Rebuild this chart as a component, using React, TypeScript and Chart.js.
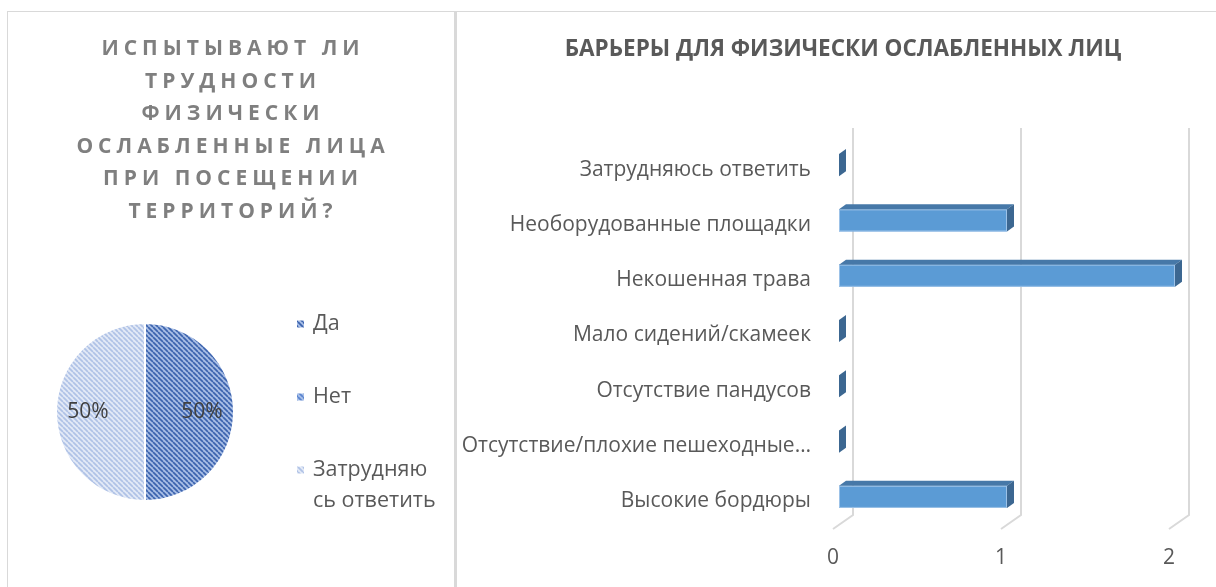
import React, { useEffect, useRef } from 'react';
import { Chart, registerables } from 'chart.js';
Chart.register(...registerables);

const pieTitleLines = ['ИСПЫТЫВАЮТ ЛИ', 'ТРУДНОСТИ', 'ФИЗИЧЕСКИ', 'ОСЛАБЛЕННЫЕ ЛИЦА', 'ПРИ ПОСЕЩЕНИИ', 'ТЕРРИТОРИЙ?'];
const pieLabels = ['Да', 'Нет', 'Затрудняюсь ответить'];
const pieLegendLines = [['Да'], ['Нет'], ['Затрудняю', 'сь ответить']];
const pieValues = [1, 0, 1];

const barTitle = 'БАРЬЕРЫ ДЛЯ ФИЗИЧЕСКИ ОСЛАБЛЕННЫХ ЛИЦ';
const barCategories = [
  'Затрудняюсь ответить',
  'Необорудованные площадки',
  'Некошенная трава',
  'Мало сидений/скамеек',
  'Отсутствие пандусов',
  'Отсутствие/плохие пешеходные…',
  'Высокие бордюры',
];
const barValues = [0, 1, 2, 0, 0, 0, 1];
const xTickValues = [0, 1, 2];

const FONT = 'Open Sans';
const TEXT = '#595959';
const BORDER = '#D9D9D9';

function makePattern(bg: string, fg: string, size: number, lw: number) {
  const c = document.createElement('canvas');
  c.width = size;
  c.height = size;
  const x = c.getContext('2d')!;
  x.fillStyle = bg;
  x.fillRect(0, 0, size, size);
  x.strokeStyle = fg;
  x.lineWidth = lw;
  x.beginPath();
  for (const k of [-size, 0, size]) {
    x.moveTo(k, 0);
    x.lineTo(k + size, size);
  }
  x.stroke();
  return x.createPattern(c, 'repeat')!;
}

function PieChart() {
  const ref = useRef<HTMLCanvasElement>(null);
  useEffect(() => {
    const patterns = [
      makePattern('#A7BDE5', '#3B63AE', 5, 1.7),
      makePattern('#A9C0E8', '#5A84CF', 5, 1.7),
      makePattern('#E2E9F6', '#AFC2E6', 5, 1.7),
    ];
    const total = pieValues.reduce((a, b) => a + b, 0);
    const piePlugin = {
      id: 'pieExtras',
      afterDraw(chart: any) {
        const ctx = chart.ctx as CanvasRenderingContext2D;
        ctx.save();
        // title
        (ctx as any).letterSpacing = '5px';
        ctx.font = `bold 21px "${FONT}"`;
        ctx.fillStyle = '#7F7F7F';
        ctx.textAlign = 'center';
        ctx.textBaseline = 'middle';
        pieTitleLines.forEach((line, i) => {
          ctx.fillText(line, 225, 37 + i * 32.6);
        });
        (ctx as any).letterSpacing = '0px';
        // percentage labels
        const meta = chart.getDatasetMeta(0);
        ctx.font = `21px "${FONT}"`;
        ctx.fillStyle = '#404040';
        meta.data.forEach((el: any, i: number) => {
          const v = pieValues[i];
          if (!v) return;
          const p = el.getProps(['x', 'y', 'startAngle', 'endAngle', 'outerRadius'], true);
          const mid = (p.startAngle + p.endAngle) / 2;
          const r = p.outerRadius * 0.64;
          ctx.fillText(Math.round((v / total) * 100) + '%', p.x + Math.cos(mid) * r, p.y + Math.sin(mid) * r);
        });
        // legend
        const legendY = [312, 385, 458];
        ctx.textAlign = 'left';
        ctx.font = `21.5px "${FONT}"`;
        pieLabels.forEach((_, i) => {
          const y = legendY[i];
          ctx.fillStyle = patterns[i];
          ctx.fillRect(289, y - 3.5, 7, 7);
          ctx.fillStyle = TEXT;
          pieLegendLines[i].forEach((t, j) => ctx.fillText(t, 305, y + j * 31));
        });
        ctx.restore();
      },
    };
    const chart = new Chart(ref.current!, {
      type: 'pie',
      data: {
        labels: pieLabels,
        datasets: [
          {
            data: pieValues,
            backgroundColor: patterns as any,
            borderColor: '#FFFFFF',
            borderWidth: 2,
          },
        ],
      },
      options: {
        responsive: false,
        animation: false,
        layout: { padding: { left: 47, right: 219, top: 309, bottom: 84 } },
        plugins: { legend: { display: false }, tooltip: { enabled: false }, title: { display: false } },
      },
      plugins: [piePlugin],
    });
    return () => chart.destroy();
  }, []);
  return <canvas ref={ref} width={446} height={575} style={{ position: 'absolute', left: 8, top: 12 }} />;
}

function BarChart() {
  const ref = useRef<HTMLCanvasElement>(null);
  useEffect(() => {
    const DX = 20, DY = -14; // floor depth (front plane -> back wall)
    const OX = 6, OY = -4.5; // bar recess from front plane
    const BX = 7, BY = -5; // bar depth
    const gridPlugin = {
      id: 'grid3d',
      beforeDatasetsDraw(chart: any) {
        const ctx = chart.ctx as CanvasRenderingContext2D;
        const area = chart.chartArea;
        const xs = chart.scales.x;
        ctx.save();
        ctx.strokeStyle = BORDER;
        ctx.lineWidth = 2;
        xTickValues.forEach((v) => {
          const x = xs.getPixelForValue(v);
          ctx.beginPath();
          ctx.moveTo(x + DX, area.top + DY);
          ctx.lineTo(x + DX, area.bottom + DY);
          ctx.lineTo(x, area.bottom);
          ctx.stroke();
        });
        // title
        ctx.font = `bold 22.5px "${FONT}"`;
        ctx.fillStyle = TEXT;
        ctx.textAlign = 'center';
        ctx.textBaseline = 'middle';
        ctx.fillText(barTitle, 386, 38);
        ctx.restore();
      },
      afterDatasetsDraw(chart: any) {
        const ctx = chart.ctx as CanvasRenderingContext2D;
        const meta = chart.getDatasetMeta(0);
        ctx.save();
        meta.data.forEach((el: any) => {
          const p = el.getProps(['x', 'y', 'base', 'height'], true);
          const x0 = p.base + OX;
          const x1 = p.x + OX;
          const top = p.y - p.height / 2 + OY;
          const bot = p.y + p.height / 2 + OY;
          if (x1 - x0 > 0.5) {
            ctx.fillStyle = '#5B9BD5';
            ctx.fillRect(x0, top, x1 - x0, bot - top);
            ctx.strokeStyle = '#9CC2E8';
            ctx.lineWidth = 1;
            ctx.strokeRect(x0 + 0.5, top + 0.5, x1 - x0 - 1, bot - top - 1);
            ctx.fillStyle = '#4678A8';
            ctx.beginPath();
            ctx.moveTo(x0, top);
            ctx.lineTo(x1, top);
            ctx.lineTo(x1 + BX, top + BY);
            ctx.lineTo(x0 + BX, top + BY);
            ctx.closePath();
            ctx.fill();
          }
          ctx.fillStyle = '#3C6791';
          ctx.beginPath();
          ctx.moveTo(x1, top);
          ctx.lineTo(x1 + BX, top + BY);
          ctx.lineTo(x1 + BX, bot + BY);
          ctx.lineTo(x1, bot);
          ctx.closePath();
          ctx.fill();
        });
        ctx.restore();
      },
    };
    const chart = new Chart(ref.current!, {
      type: 'bar',
      data: {
        labels: barCategories,
        datasets: [
          {
            data: barValues,
            backgroundColor: 'rgba(0,0,0,0)',
            borderWidth: 0,
            barPercentage: 0.4,
            categoryPercentage: 1,
          },
        ],
      },
      options: {
        indexAxis: 'y',
        responsive: false,
        animation: false,
        layout: { padding: { left: 0, right: 47, top: 130, bottom: 0 } },
        plugins: { legend: { display: false }, tooltip: { enabled: false }, title: { display: false } },
        scales: {
          x: {
            type: 'linear',
            min: 0,
            max: 2,
            ticks: { stepSize: 1, color: TEXT, font: { family: FONT, size: 21 }, padding: 16 },
            grid: { display: false, drawTicks: false },
            border: { display: false },
            afterFit: (s: any) => {
              s.height = 58;
            },
          },
          y: {
            ticks: { color: TEXT, font: { family: FONT, size: 21 }, padding: 22, autoSkip: false },
            grid: { display: false, drawTicks: false },
            border: { display: false },
            afterFit: (s: any) => {
              s.width = 376;
            },
          },
        },
      },
      plugins: [gridPlugin],
    });
    return () => chart.destroy();
  }, []);
  return <canvas ref={ref} width={759} height={575} style={{ position: 'absolute', left: 457, top: 12 }} />;
}

export default function App() {
  return (
    <div
      style={{
        position: 'fixed',
        left: 0,
        top: 0,
        width: 1216,
        height: 587,
        background: '#FFFFFF',
        overflow: 'hidden',
      }}
    >
      <div
        style={{
          position: 'absolute',
          left: 7,
          top: 11,
          width: 448,
          height: 620,
          boxSizing: 'border-box',
          border: `1px solid ${BORDER}`,
        }}
      />
      <div
        style={{
          position: 'absolute',
          left: 455,
          top: 11,
          width: 800,
          height: 620,
          boxSizing: 'border-box',
          borderTop: `1px solid ${BORDER}`,
          borderLeft: `2px solid ${BORDER}`,
        }}
      />
      <PieChart />
      <BarChart />
    </div>
  );
}
